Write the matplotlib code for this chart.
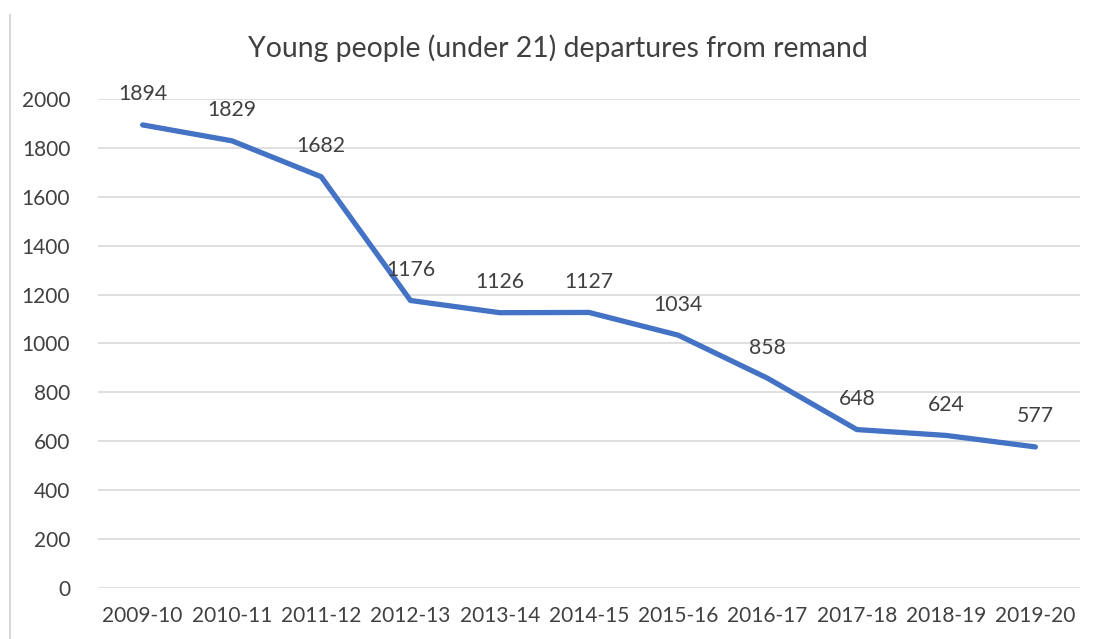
import matplotlib
matplotlib.use("Agg")
import matplotlib.pyplot as plt
from matplotlib.lines import Line2D

years = ["2009-10", "2010-11", "2011-12", "2012-13", "2013-14", "2014-15",
         "2015-16", "2016-17", "2017-18", "2018-19", "2019-20"]
departures = [1894, 1829, 1682, 1176, 1126, 1127, 1034, 858, 648, 624, 577]
y_ticks = [0, 200, 400, 600, 800, 1000, 1200, 1400, 1600, 1800, 2000]

plt.rcParams['font.family'] = ['Lato', 'DejaVu Sans']
txt = '#404040'

fig = plt.figure(figsize=(10.93, 6.39), dpi=100)
ax = fig.add_axes([98/1093, 51/639, 982/1093, 489/639])

x = list(range(len(years)))
ax.plot(x, departures, color='#4472C4', linewidth=3.8, solid_capstyle='round', zorder=3)
for xi, v in zip(x, departures):
    ax.annotate(str(v), (xi, v), xytext=(0, 22), textcoords='offset points',
                ha='center', va='center', fontsize=15.3, color=txt)

ax.set_xlim(-0.5, len(years) - 0.5)
ax.set_ylim(0, 2000)
ax.set_yticks(y_ticks)
ax.set_yticklabels([str(t) for t in y_ticks])
ax.set_xticks(x)
ax.set_xticklabels(years)
ax.tick_params(axis='both', length=0, labelsize=15, labelcolor=txt)
ax.tick_params(axis='y', pad=20)
ax.tick_params(axis='x', pad=13)
ax.grid(axis='y', color='#d9d9d9', linewidth=1.2)
ax.set_axisbelow(True)
for s in ax.spines.values():
    s.set_visible(False)

fig.text(558/1093, 1 - 48/639, "Young people (under 21) departures from remand",
         ha='center', va='center', fontsize=20.4, color=txt)

fig.add_artist(Line2D([10/1093, 10/1093], [0, 1 - 15/639], transform=fig.transFigure,
                      color='#d9d9d9', linewidth=1.5))

fig.savefig("out.png", dpi=100, facecolor='white')
